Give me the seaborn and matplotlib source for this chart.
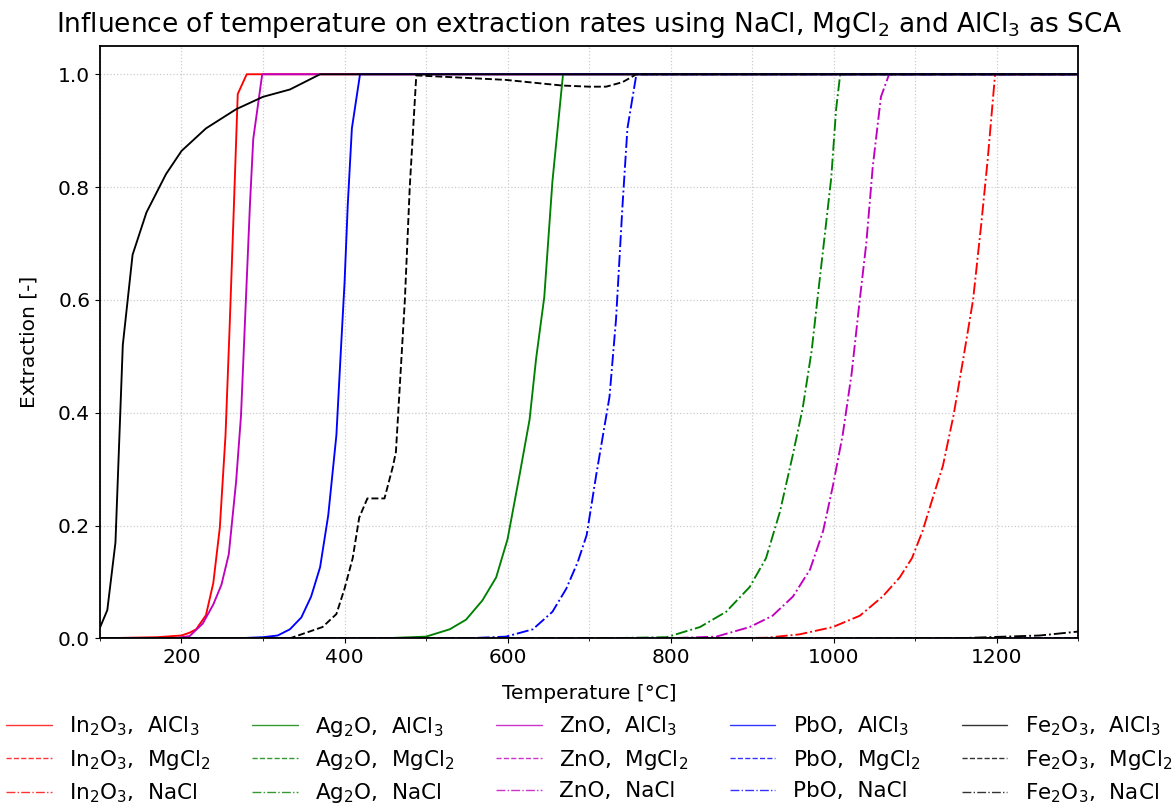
import pandas as pd
import seaborn as sns
import matplotlib.pyplot as plt
from matplotlib.ticker import MultipleLocator

# temperature [°C] / extraction [-]
in_al_T = [100, 170, 200, 210, 218, 230, 239, 247, 254, 259, 264, 269, 280, 1300]
in_al_E = [0, 0.002, 0.005, 0.01, 0.016, 0.041, 0.098, 0.196, 0.36, 0.55, 0.755, 0.965, 1.0, 1.0]
in_mg_T = [100, 1300]
in_mg_E = [0, 0]
in_na_T = [100, 856, 917, 958, 999, 1032, 1060, 1081, 1096, 1109, 1122, 1134, 1147, 1159, 1171, 1181, 1189, 1198, 1300]
in_na_E = [0, 0, 0.001, 0.007, 0.02, 0.04, 0.074, 0.108, 0.142, 0.19, 0.251, 0.306, 0.395, 0.496, 0.6, 0.734, 0.85, 1.0, 1.0]

ag_al_T = [100, 447, 500, 529, 549, 569, 586, 600, 615, 627, 635, 645, 655, 668, 1300]
ag_al_E = [0, 0, 0.003, 0.016, 0.033, 0.067, 0.108, 0.176, 0.292, 0.388, 0.496, 0.605, 0.81, 1.0, 1.0]
ag_mg_T = [100, 1300]
ag_mg_E = [0, 0]
ag_na_T = [100, 713, 795, 836, 868, 897, 917, 934, 950, 962, 973, 980, 989, 997, 1003, 1008, 1300]
ag_na_E = [0, 0, 0.002, 0.02, 0.047, 0.091, 0.142, 0.224, 0.326, 0.408, 0.51, 0.6, 0.714, 0.816, 0.938, 1.0, 1.0]

zn_al_T = [100, 190, 210, 226, 239, 249, 258, 267, 273, 279, 284, 288, 299, 1300]
zn_al_E = [0, 0, 0.004, 0.026, 0.06, 0.095, 0.149, 0.278, 0.395, 0.6, 0.77, 0.885, 1.0, 1.0]
zn_mg_T = [100, 1300]
zn_mg_E = [0, 0]
zn_na_T = [100, 795, 856, 897, 925, 950, 971, 987, 999, 1011, 1022, 1032, 1040, 1048, 1058, 1068, 1300]
zn_na_E = [0, 0, 0.003, 0.02, 0.04, 0.074, 0.122, 0.19, 0.27, 0.36, 0.469, 0.6, 0.7, 0.837, 0.96, 1.0, 1.0]

pb_al_T = [100, 267, 300, 318, 333, 347, 359, 370, 380, 390, 396, 400, 404, 409, 419, 1300]
pb_al_E = [0, 0, 0.002, 0.005, 0.016, 0.037, 0.074, 0.126, 0.218, 0.36, 0.524, 0.63, 0.77, 0.904, 1.0, 1.0]
pb_mg_T = [100, 1300]
pb_mg_E = [0, 0]
pb_na_T = [100, 549, 598, 631, 655, 672, 686, 697, 709, 717, 725, 733, 741, 747, 758, 1300]
pb_na_E = [0, 0, 0.003, 0.016, 0.047, 0.088, 0.135, 0.183, 0.292, 0.36, 0.428, 0.565, 0.768, 0.904, 1.0, 1.0]

fe_al_T = [100, 109, 119, 128, 140, 157, 181, 200, 230, 267, 300, 333, 370, 1300]
fe_al_E = [0.019, 0.05, 0.17, 0.52, 0.68, 0.755, 0.823, 0.864, 0.904, 0.938, 0.96, 0.973, 1.0, 1.0]
fe_mg_T = [100, 333, 373, 390, 400, 410, 418, 428, 449, 459, 463, 467, 474, 480, 488, 598, 667, 700, 721, 741, 758, 1300]
fe_mg_E = [0, 0, 0.02, 0.043, 0.088, 0.142, 0.214, 0.248, 0.248, 0.303, 0.33, 0.428, 0.6, 0.8, 0.998, 0.99, 0.98, 0.978, 0.978, 0.986, 1.0, 1.0]
fe_na_T = [100, 1150, 1200, 1253, 1300]
fe_na_E = [0, 0, 0.0025, 0.005, 0.012]

oxides = ["In$_2$O$_3$", "Ag$_2$O", "ZnO", "PbO", "Fe$_2$O$_3$"]
colors = ["r", "g", "m", "b", "k"]
scas = ["AlCl$_3$", "MgCl$_2$", "NaCl"]
styles = ["-", "--", "-."]

series = [
    [(in_al_T, in_al_E), (in_mg_T, in_mg_E), (in_na_T, in_na_E)],
    [(ag_al_T, ag_al_E), (ag_mg_T, ag_mg_E), (ag_na_T, ag_na_E)],
    [(zn_al_T, zn_al_E), (zn_mg_T, zn_mg_E), (zn_na_T, zn_na_E)],
    [(pb_al_T, pb_al_E), (pb_mg_T, pb_mg_E), (pb_na_T, pb_na_E)],
    [(fe_al_T, fe_al_E), (fe_mg_T, fe_mg_E), (fe_na_T, fe_na_E)],
]

sns.set_style("ticks")
plt.rcParams["font.family"] = ["DejaVu Sans"]
plt.rcParams["mathtext.default"] = "regular"
plt.rcParams["text.color"] = "k"
plt.rcParams["axes.labelcolor"] = "k"
plt.rcParams["xtick.color"] = "k"
plt.rcParams["ytick.color"] = "k"

fig, ax = plt.subplots(figsize=(11.72, 8.08), dpi=100)
fig.subplots_adjust(left=0.0853, right=0.92, top=0.943, bottom=0.21)

for ox, col, group in zip(oxides, colors, series):
    for sca, ls, (T, E) in zip(scas, styles, group):
        df = pd.DataFrame({"T": T, "E": E})
        sns.lineplot(data=df, x="T", y="E", color=col, linestyle=ls,
                     linewidth=1.35, label=f"{ox},  {sca}", ax=ax,
                     estimator=None, sort=False)

ax.set_xlim(100, 1300)
ax.set_ylim(0, 1.05)
ax.xaxis.set_major_locator(MultipleLocator(200))
ax.xaxis.set_minor_locator(MultipleLocator(100))
ax.set_yticks([0, 0.2, 0.4, 0.6, 0.8, 1.0])
ax.grid(which="both", axis="x", color="#cccccc", linestyle=":", linewidth=0.9)
ax.grid(which="major", axis="y", color="#cccccc", linestyle=":", linewidth=0.9)
ax.tick_params(labelsize=14.5)
for s in ax.spines.values():
    s.set_color("k")
    s.set_linewidth(1.3)

ax.set_xlabel("Temperature [°C]", fontsize=14.5, labelpad=12)
ax.set_ylabel("Extraction [-]", fontsize=14.5, labelpad=14)
ax.set_title("Influence of temperature on extraction rates using NaCl, MgCl$_2$ and AlCl$_3$ as SCA",
             fontsize=19, pad=10)

leg = ax.legend(loc="upper center", bbox_to_anchor=(0.5, -0.096), ncol=5, frameon=False,
                fontsize=15.5, handlelength=2.1, columnspacing=1.95, handletextpad=0.8,
                labelspacing=0.44)
for h in leg.get_lines():
    h.set_linewidth(1.0)
    h.set_alpha(0.8)

plt.savefig("out.png", dpi=100)
